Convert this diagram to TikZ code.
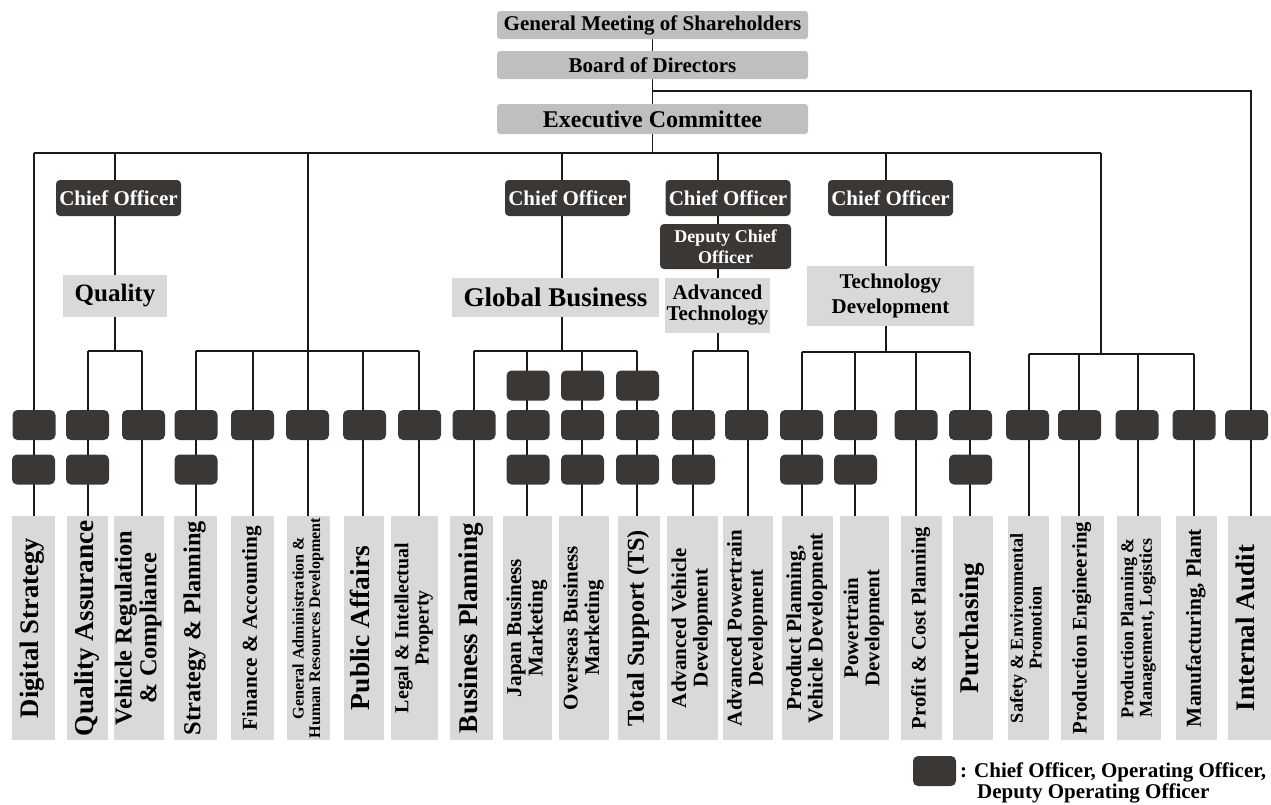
\documentclass[tikz,border=0pt]{standalone}
\usepackage{fontspec}
\setmainfont{Liberation Serif}
\usepackage{graphicx}
\usetikzlibrary{backgrounds}
\definecolor{topgray}{HTML}{BFBFBF}
\definecolor{labgray}{HTML}{D9D9D9}
\definecolor{darkbox}{HTML}{3A3735}
\tikzset{
  conn/.style={line width=1.4pt, draw=black!90},
  topbox/.style={fill=topgray, rounded corners=3pt, minimum width=311pt, minimum height=28pt, inner sep=0pt, font=\fontsize{21}{21}\selectfont\bfseries},
  chief/.style={fill=darkbox, text=white, rounded corners=4pt, minimum width=125pt, minimum height=36pt, inner sep=0pt, font=\fontsize{21}{21}\selectfont\bfseries},
  offbox/.style={fill=darkbox, rounded corners=5pt, minimum width=43pt, minimum height=30pt, inner sep=0pt},
  labbox/.style={fill=labgray, minimum height=224pt, inner sep=0pt},
  labtext/.style={rotate=90, inner sep=0pt},
  divbox/.style={fill=labgray, inner sep=0pt, align=center},
  legtext/.style={inner sep=0pt, anchor=base west, font=\fontsize{21}{21}\selectfont\bfseries},
}
\newcommand\mylab[5]{%
  \node[labbox, minimum width={#3-#2}] (#1) at ({(#2+#3)/2},628) {};
  \node[labtext] (#1t) at (#1.center) {\resizebox{#4pt}{!}{\fontsize{10}{10.2}\selectfont\bfseries\begin{tabular}{@{}c@{}}#5\end{tabular}}};
}
\newcommand\myoff[3]{\node[offbox] (#1) at (#2,#3) {};}
\begin{document}
\begin{tikzpicture}[x=1pt,y=-1pt]
\useasboundingbox (0,0) rectangle (1271,804);

% top
\node[topbox] (gm) at (652.5,25) {General Meeting of Shareholders};
\node[topbox] (bod) at (652.5,65) {Board of Directors};
\node[topbox, minimum height=30pt, font=\fontsize{24}{24}\selectfont\bfseries] (ec) at (652.5,119) {Executive Committee};

% chief officers and divisions
\node[chief] (co1) at (118.5,198) {Chief Officer};
\node[divbox, minimum width=104pt, minimum height=42pt, font=\fontsize{25}{25}\selectfont\bfseries] (dq) at (115,296) {Quality};

\node[chief] (co2) at (567.5,198) {Chief Officer};
\node[divbox, minimum width=207pt, minimum height=39pt, font=\fontsize{27}{27}\selectfont\bfseries] (dg) at (555.5,297.5) {Global Business};

\node[chief] (co3) at (728,198) {Chief Officer};
\node[chief, minimum width=131pt, minimum height=45pt, font=\fontsize{18}{21}\selectfont\bfseries, align=center] (dco) at (725.5,246.5) {Deputy Chief\\Officer};
\node[divbox, minimum width=105pt, minimum height=55pt, font=\fontsize{21}{21}\selectfont\bfseries] (da) at (717.5,305.5) {Advanced\\Technology};

\node[chief] (co4) at (890.5,198) {Chief Officer};
\node[divbox, minimum width=167pt, minimum height=60pt, font=\fontsize{21}{25}\selectfont\bfseries] (dt) at (890.5,296) {Technology\\Development};

% officer boxes
\myoff{o1a}{34}{425}  \myoff{o1b}{33.5}{469.5}
\myoff{o2a}{87.5}{425} \myoff{o2b}{87.5}{469.5}
\myoff{o3a}{143.5}{425}
\myoff{o4a}{196}{425} \myoff{o4b}{196}{469.5}
\myoff{o5a}{252.5}{425}
\myoff{o6a}{307.5}{425}
\myoff{o7a}{364.5}{425}
\myoff{o8a}{419.5}{425}
\myoff{o9a}{474}{425}
\myoff{o10z}{528}{385.5} \myoff{o10a}{528}{425} \myoff{o10b}{528}{469.5}
\myoff{o11z}{582.5}{385.5} \myoff{o11a}{582.5}{425} \myoff{o11b}{582.5}{469.5}
\myoff{o12z}{637.5}{385.5} \myoff{o12a}{637.5}{425} \myoff{o12b}{637.5}{469.5}
\myoff{o13a}{693.5}{425} \myoff{o13b}{693.5}{469.5}
\myoff{o14a}{746.5}{425}
\myoff{o15a}{801.5}{425} \myoff{o15b}{801.5}{469.5}
\myoff{o16a}{855.5}{425} \myoff{o16b}{855.5}{469.5}
\myoff{o17a}{916}{425}
\myoff{o18a}{970.5}{425} \myoff{o18b}{970.5}{469.5}
\myoff{o19a}{1027.5}{425}
\myoff{o20a}{1079.5}{425}
\myoff{o21a}{1137}{425}
\myoff{o22a}{1194}{425}
\myoff{o23a}{1246.5}{425}

% department labels
\mylab{l1}{12}{55}{180}{Digital Strategy}
\mylab{l2}{67}{108}{216}{Quality Assurance}
\mylab{l3}{114}{164}{194}{Vehicle Regulation\\\& Compliance}
\mylab{l4}{174}{217}{214}{Strategy \& Planning}
\mylab{l5}{231}{274}{204}{Finance \& Accounting}
\mylab{l6}{287}{330}{220}{General Administration \&\\Human Resources Development}
\mylab{l7}{344}{384}{164}{Public Affairs}
\mylab{l8}{391}{438}{170}{Legal \& Intellectual\\Property}
\mylab{l9}{450}{493}{210}{Business Planning}
\mylab{l10}{503}{552}{138}{Japan Business\\Marketing}
\mylab{l11}{559}{609}{164}{Overseas Business\\Marketing}
\mylab{l12}{618}{660}{196}{Total Support (TS)}
\mylab{l13}{667}{718}{160}{Advanced Vehicle\\Development}
\mylab{l14}{723}{773}{196}{Advanced Powertrain\\Development}
\mylab{l15}{782}{833}{190}{Product Planning,\\Vehicle Development}
\mylab{l16}{840}{889}{117}{Powertrain\\Development}
\mylab{l17}{901}{942}{202}{Profit \& Cost Planning}
\mylab{l18}{953}{993}{130}{Purchasing}
\mylab{l19}{1008}{1049}{190}{Safety \& Environmental\\Promotion}
\mylab{l20}{1061}{1104}{212}{Production Engineering}
\mylab{l21}{1117}{1161}{180}{Production Planning \&\\Management, Logistics}
\mylab{l22}{1176}{1217}{198}{Manufacturing, Plant}
\mylab{l23}{1228}{1271}{166}{Internal Audit}

% legend
\node[offbox] (lg) at (934.5,771) {};
\node[legtext] (lt1) at (960,777) {: Chief Officer, Operating Officer,};
\node[legtext] (lt2) at (977,798) {Deputy Operating Officer};

% coordinates
\coordinate (ja) at (652,91);
\coordinate (iaT) at (1251,91);
\coordinate (hL) at (34,153);
\coordinate (hR) at (1101,153);
\coordinate (q0) at (115,153); \coordinate (q1) at (115,351);
\coordinate (qa) at (88,351); \coordinate (qb) at (142,351);
\coordinate (m0) at (308,153);
\coordinate (ma) at (196,351); \coordinate (mb) at (253,351); \coordinate (mc) at (363,351); \coordinate (md) at (419,351);
\coordinate (g0) at (562,153); \coordinate (g1) at (562,351);
\coordinate (ga) at (474,351); \coordinate (gb) at (527,351); \coordinate (gc) at (582,351); \coordinate (gd) at (637,351);
\coordinate (a0) at (718,153); \coordinate (a1) at (718,351);
\coordinate (aa) at (693,351); \coordinate (ab) at (748,351);
\coordinate (t0) at (886,153); \coordinate (t1) at (886,352);
\coordinate (ta) at (802,352); \coordinate (tb) at (855,352); \coordinate (tc) at (916,352); \coordinate (td) at (970,352);
\coordinate (r0) at (1101,153); \coordinate (r1) at (1101,354);
\coordinate (ra) at (1029,354); \coordinate (rb) at (1079,354); \coordinate (rc) at (1138,354); \coordinate (rd) at (1194,354);

\begin{scope}[on background layer]
\draw[conn] (gm.south) -- (bod.north);
\draw[conn] (bod.south) -- (ec.north);
\draw[conn] (ja) -- (iaT) -- (iaT |- l23.north);
\draw[conn] (ec.south) -- (ec.south |- hL);
\draw[conn] (hL) -- (hR);
\draw[conn] (hL) -- (hL |- l1.north);
% quality
\draw[conn] (q0) -- (q1);
\draw[conn] (qa) -- (qb);
\draw[conn] (qa) -- (qa |- l2.north);
\draw[conn] (qb) -- (qb |- l3.north);
% corporate
\draw[conn] (m0) -- (m0 |- l6.north);
\draw[conn] (ma) -- (md);
\draw[conn] (ma) -- (ma |- l4.north);
\draw[conn] (mb) -- (mb |- l5.north);
\draw[conn] (mc) -- (mc |- l7.north);
\draw[conn] (md) -- (md |- l8.north);
% global
\draw[conn] (g0) -- (g1);
\draw[conn] (ga) -- (gd);
\draw[conn] (ga) -- (ga |- l9.north);
\draw[conn] (gb) -- (gb |- l10.north);
\draw[conn] (gc) -- (gc |- l11.north);
\draw[conn] (gd) -- (gd |- l12.north);
% advanced
\draw[conn] (a0) -- (a1);
\draw[conn] (aa) -- (ab);
\draw[conn] (aa) -- (aa |- l13.north);
\draw[conn] (ab) -- (ab |- l14.north);
% technology
\draw[conn] (t0) -- (t1);
\draw[conn] (ta) -- (td);
\draw[conn] (ta) -- (ta |- l15.north);
\draw[conn] (tb) -- (tb |- l16.north);
\draw[conn] (tc) -- (tc |- l17.north);
\draw[conn] (td) -- (td |- l18.north);
% manufacturing
\draw[conn] (r0) -- (r1);
\draw[conn] (ra) -- (rd);
\draw[conn] (ra) -- (ra |- l19.north);
\draw[conn] (rb) -- (rb |- l20.north);
\draw[conn] (rc) -- (rc |- l21.north);
\draw[conn] (rd) -- (rd |- l22.north);
\end{scope}
\end{tikzpicture}
\end{document}
